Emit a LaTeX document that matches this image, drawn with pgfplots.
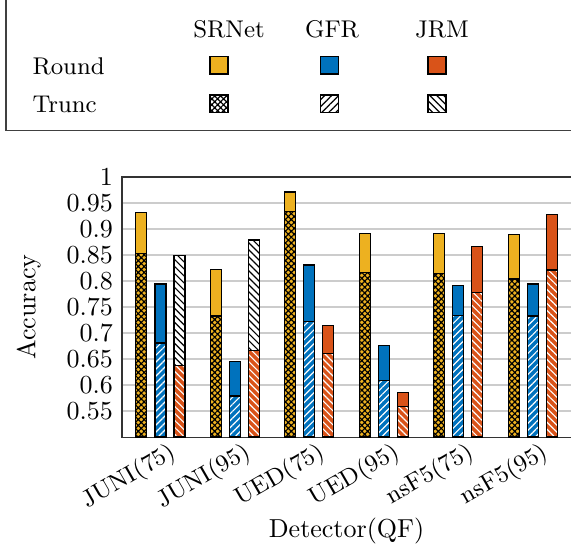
\documentclass[border=0pt]{standalone}
\usepackage{pgfplots}
\pgfplotsset{compat=1.18}
\usepackage{pgfplotstable}
\usetikzlibrary{patterns,patterns.meta}

\definecolor{cS}{RGB}{237,177,32}
\definecolor{cG}{RGB}{0,114,189}
\definecolor{cJ}{RGB}{217,83,25}

\pgfplotstableread{
x round trunc
0 0.932 0.853
1 0.822 0.733
2 0.971 0.934
3 0.892 0.816
4 0.892 0.815
5 0.889 0.804
}\srnet
\pgfplotstableread{
x round trunc
0 0.794 0.681
1 0.645 0.579
2 0.831 0.722
3 0.676 0.609
4 0.792 0.734
5 0.794 0.733
}\gfr
\pgfplotstableread{
x round trunc
0 0.638 0.849
1 0.667 0.879
2 0.715 0.661
3 0.586 0.559
4 0.866 0.778
5 0.928 0.821
}\jrm

\tikzset{
  hatchS/.style={pattern={Hatch[angle=45,distance=1.6pt,line width=0.45pt]}},
  hatchG/.style={pattern={Lines[angle=45,distance=1.9pt,line width=0.45pt]}},
  hatchJ/.style={pattern={Lines[angle=-45,distance=1.9pt,line width=0.45pt]}},
}

\begin{document}
\begin{tikzpicture}
\begin{axis}[
  at={(46.92pt,-168.07pt)}, anchor=south west,
  scale only axis, width=172.7pt, height=100pt,
  xmin=-0.515, xmax=5.515, ymin=0.5, ymax=1,
  xtick={0,1,2,3,4,5},
  xticklabels={JUNI(75),JUNI(95),UED(75),UED(95),nsF5(75),nsF5(95)},
  x tick label style={rotate=30, anchor=north east, inner sep=0pt, yshift=-2.5pt, xshift=2pt, font=\fontsize{9.3}{10}\selectfont},
  xtick style={draw=none},
  ytick={0.55,0.6,0.65,0.7,0.75,0.8,0.85,0.9,0.95,1},
  yticklabels={0.55,0.6,0.65,0.7,0.75,0.8,0.85,0.9,0.95,1},
  ytick style={draw=none},
  ymajorgrids, grid style={gray!40, line width=0.5pt},
  axis line style={black!80},
  xlabel={Detector(QF)}, ylabel={Accuracy},
  xlabel style={at={(axis description cs:0.5,-0.385)}, anchor=base},
  ylabel style={at={(axis description cs:-0.1928,0.5)}, anchor=base},
  bar width=4.23pt,
  every axis plot/.append style={line width=0.5pt},
]
% SRNet
\addplot[ybar, bar shift=-7.31pt, draw=black, fill=white, postaction={hatchS, pattern color=black}] table[x=x, y=trunc] {\srnet};
\addplot[ybar, bar shift=-7.31pt, draw=black, fill=cS] table[x=x, y=round] {\srnet};
\addplot[ybar, bar shift=-7.31pt, draw=black, hatchS, pattern color=black] table[x=x, y expr={min(\thisrow{round},\thisrow{trunc})}] {\srnet};
% GFR
\addplot[ybar, bar shift=0pt, draw=black, fill=white, postaction={hatchG, pattern color=black}] table[x=x, y=trunc] {\gfr};
\addplot[ybar, bar shift=0pt, draw=black, fill=cG] table[x=x, y=round] {\gfr};
\addplot[ybar, bar shift=0pt, draw=black, hatchG, pattern color=white] table[x=x, y expr={min(\thisrow{round},\thisrow{trunc})}] {\gfr};
% JRM
\addplot[ybar, bar shift=7.31pt, draw=black, fill=white, postaction={hatchJ, pattern color=black}] table[x=x, y=trunc] {\jrm};
\addplot[ybar, bar shift=7.31pt, draw=black, fill=cJ] table[x=x, y=round] {\jrm};
\addplot[ybar, bar shift=7.31pt, draw=black, hatchJ, pattern color=white] table[x=x, y expr={min(\thisrow{round},\thisrow{trunc})}] {\jrm};
\end{axis}

\begin{scope}[x=0.3846pt, y=-0.3846pt, every node/.append style={font=\fontsize{9.3}{11}\selectfont}]
  \draw[black!75, line width=0.6pt] (6,-20) -- (6,130.5) -- (600,130.5);
  \node[anchor=base] at (229,37) {SRNet};
  \node[anchor=base] at (332,37) {GFR};
  \node[anchor=base] at (442,37) {JRM};
  \node[anchor=base west, inner sep=0pt] at (32,74) {Round};
  \node[anchor=base west, inner sep=0pt] at (32,112) {Trunc};
  \filldraw[fill=cS, draw=black, line width=0.4pt] (210,56.5) rectangle (228,74);
  \filldraw[fill=cG, draw=black, line width=0.4pt] (320.5,56.5) rectangle (338.5,74);
  \filldraw[fill=cJ, draw=black, line width=0.4pt] (428,56.5) rectangle (446,74);
  \draw[black, line width=0.4pt, fill=white, postaction={hatchS, pattern color=black}] (210,95) rectangle (228,112.5);
  \draw[black, line width=0.4pt, fill=white, postaction={hatchG, pattern color=black}] (320.5,95) rectangle (338.5,112.5);
  \draw[black, line width=0.4pt, fill=white, postaction={hatchJ, pattern color=black}] (428,95) rectangle (446,112.5);
  \pgfresetboundingbox
  \useasboundingbox (0,0) rectangle (571,546);
\end{scope}
\end{tikzpicture}
\end{document}
